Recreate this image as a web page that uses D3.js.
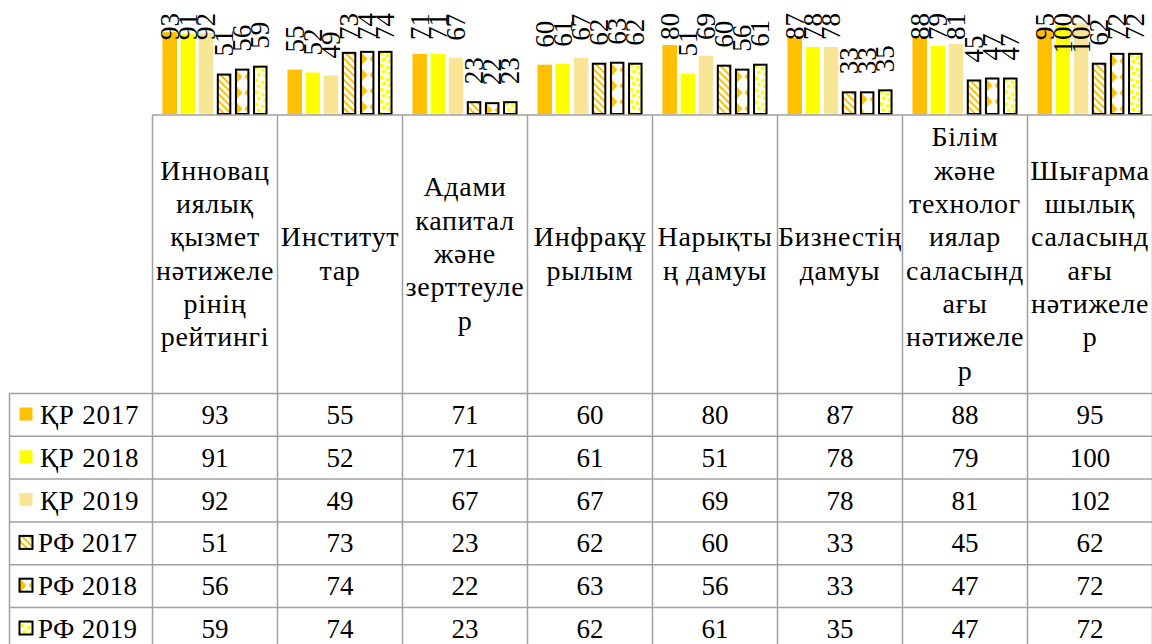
<!DOCTYPE html>
<html>
<head>
<meta charset="utf-8">
<script src="https://cdn.jsdelivr.net/npm/d3@7"></script>
<style>
  body { margin: 0; background: #fff; }
  svg { display: block; }
  text { font-family: "Liberation Serif", "DejaVu Serif", serif; fill: #000; }
</style>
</head>
<body>
<div id="chart"></div>
<script>
// categories (wrapped the way the table header wraps them)
let categoryLines = [
    ['Инновац', 'иялық', 'қызмет', 'нәтижеле', 'рінің', 'рейтингі'],
    ['Институт', 'тар'],
    ['Адами', 'капитал', 'және', 'зерттеуле', 'р'],
    ['Инфрақұ', 'рылым'],
    ['Нарықты', 'ң дамуы'],
    ['Бизнестің', 'дамуы'],
    ['Білім', 'және', 'технолог', 'иялар', 'саласынд', 'ағы', 'нәтижеле', 'р'],
    ['Шығарма', 'шылық', 'саласынд', 'ағы', 'нәтижеле', 'р']
];
let categories = categoryLines.map(l => l.join(''));

let seriesNames = ['ҚР 2017', 'ҚР 2018', 'ҚР 2019', 'РФ 2017', 'РФ 2018', 'РФ 2019'];

let kr2017 = [93, 55, 71, 60, 80, 87, 88, 95];
let kr2018 = [91, 52, 71, 61, 51, 78, 79, 100];
let kr2019 = [92, 49, 67, 67, 69, 78, 81, 102];
let rf2017 = [51, 73, 23, 62, 60, 33, 45, 62];
let rf2018 = [56, 74, 22, 63, 56, 33, 47, 72];
let rf2019 = [59, 74, 23, 62, 61, 35, 47, 72];
let seriesValues = [kr2017, kr2018, kr2019, rf2017, rf2018, rf2019];

let width = 1152,
    height = 644,
    fontSize = 27,
    gridColor = '#a0a0a0',
    orange = '#FFC000',
    yellow = '#FFFF00',
    lightYellow = '#F9E596';

let svg = d3.select('#chart').append('svg')
    .attr('width', width)
    .attr('height', height);

let defs = svg.append('defs');

// scales
let x0 = d3.scaleBand()
    .domain(categories)
    .range([152.5, 1152.5]);

let x1 = d3.scaleBand()
    .domain(seriesNames)
    .range([0, x0.bandwidth()])
    .paddingInner(0.2)
    .paddingOuter(0.55);

let y = d3.scaleLinear()
    .domain([10, 120])
    .range([114, 5.5]);

// fill patterns, one per bar so each one starts at its bar's left edge
function makePattern(id, kind, px, py) {
    if (kind === 3) {
        let p = defs.append('pattern').attr('id', id)
            .attr('patternUnits', 'userSpaceOnUse')
            .attr('width', 5).attr('height', 5)
            .attr('patternTransform', `translate(${px},${py}) rotate(-45)`);
        p.append('rect').attr('width', 5).attr('height', 5).attr('fill', '#fff');
        p.append('rect').attr('width', 2).attr('height', 5).attr('fill', orange);
    } else if (kind === 4) {
        let p = defs.append('pattern').attr('id', id)
            .attr('patternUnits', 'userSpaceOnUse')
            .attr('x', px).attr('y', py)
            .attr('width', 15).attr('height', 16);
        p.append('rect').attr('width', 15).attr('height', 16).attr('fill', '#fff');
        p.append('path').attr('d', 'M0,1 L6.5,8 L0,15 Z M15,1 L8.5,8 L15,15 Z').attr('fill', orange);
    } else {
        let p = defs.append('pattern').attr('id', id)
            .attr('patternUnits', 'userSpaceOnUse')
            .attr('x', px).attr('y', py)
            .attr('width', 12).attr('height', 12);
        p.append('rect').attr('width', 12).attr('height', 12).attr('fill', '#fff');
        [[1, 1], [7, 3], [3, 7], [9, 9]].forEach(([a, b]) => {
            p.append('rect').attr('x', a).attr('y', b).attr('width', 3.5).attr('height', 3.5).attr('fill', yellow);
        });
    }
}

function fillFor(si, id, px, py) {
    if (si === 0) return orange;
    if (si === 1) return yellow;
    if (si === 2) return lightYellow;
    makePattern(id, si, px, py);
    return `url(#${id})`;
}

// bars
let barData = [];
categories.forEach((c, ci) => {
    seriesNames.forEach((s, si) => {
        barData.push({cat: c, ci: ci, series: s, si: si, value: seriesValues[si][ci]});
    });
});

let bar_g = svg.append('g').attr('class', 'bars');

bar_g.selectAll('.bar')
    .data(barData)
    .join('rect')
    .attr('class', 'bar')
    .attr('x', d => x0(d.cat) + x1(d.series) + (d.si > 2 ? 1 : 0))
    .attr('y', d => y(d.value) + (d.si > 2 ? 1 : 0))
    .attr('width', d => x1.bandwidth() - (d.si > 2 ? 2 : 0))
    .attr('height', d => y(10) - y(d.value) - (d.si > 2 ? 1 : 0))
    .attr('fill', d => fillFor(d.si, `pat${d.si}_${d.ci}`, x0(d.cat) + x1(d.series) + 1, y(d.value)))
    .attr('stroke', d => d.si > 2 ? '#000' : 'none')
    .attr('stroke-width', 2);

// rotated data labels; labels that would run off the top are held down
bar_g.selectAll('.label')
    .data(barData)
    .join('text')
    .attr('class', 'label')
    .attr('font-size', fontSize)
    .attr('dominant-baseline', 'central')
    .attr('transform', function (d) {
        let cx = x0(d.cat) + x1(d.series) + x1.bandwidth() / 2;
        let len = String(d.value).length * fontSize * 0.5;
        let bottom = Math.max(y(d.value) - 17, 13 + len);
        return `translate(${cx},${bottom}) rotate(-90)`;
    })
    .text(d => d.value);

// data table
let headerTop = 115,
    headerBottom = 393.5,
    rowH = 42.8,
    legendLeft = 9.5;

let table_g = svg.append('g').attr('class', 'table');

let rowTops = seriesNames.map((s, i) => headerBottom + i * rowH);

// header cells
let head = table_g.selectAll('.head')
    .data(categoryLines)
    .join('text')
    .attr('class', 'head')
    .attr('font-size', 28)
    .attr('letter-spacing', 0.7)
    .attr('text-anchor', 'middle');

head.each(function (lines, ci) {
    let cx = x0(categories[ci]) + x0.bandwidth() / 2;
    d3.select(this).selectAll('tspan')
        .data(lines)
        .join('tspan')
        .attr('x', cx)
        .attr('y', (l, i) => 263 + (i - (lines.length - 1) / 2) * 33.3)
        .text(l => l);
});

// value cells
let cellData = [];
seriesNames.forEach((s, si) => {
    categories.forEach((c, ci) => {
        cellData.push({si: si, cat: c, value: seriesValues[si][ci]});
    });
});

table_g.selectAll('.cell')
    .data(cellData)
    .join('text')
    .attr('class', 'cell')
    .attr('font-size', fontSize)
    .attr('text-anchor', 'middle')
    .attr('x', d => x0(d.cat) + x0.bandwidth() / 2)
    .attr('y', d => rowTops[d.si] + 30.5)
    .text(d => d.value);

// legend column
let leg = table_g.selectAll('.legend')
    .data(seriesNames)
    .join('g')
    .attr('class', 'legend')
    .attr('transform', (d, i) => `translate(0,${rowTops[i]})`);

leg.append('rect')
    .attr('x', 19.5)
    .attr('y', 14)
    .attr('width', 13)
    .attr('height', 13)
    .attr('fill', (d, i) => fillFor(i, `legpat${i}`, 20, rowTops[i] + 8))
    .attr('stroke', (d, i) => i > 2 ? '#000' : 'none')
    .attr('stroke-width', 2);

leg.append('text')
    .attr('font-size', fontSize)
    .attr('letter-spacing', (d, i) => i > 2 ? 0.4 : 0.8)
    .attr('x', (d, i) => i > 2 ? 38 : 40)
    .attr('y', 30.5)
    .text(d => d);

// grid lines
let grid_g = table_g.append('g')
    .attr('stroke', gridColor)
    .attr('stroke-width', 1.5);

grid_g.append('line')
    .attr('x1', x0.range()[0]).attr('x2', width)
    .attr('y1', headerTop).attr('y2', headerTop);

grid_g.selectAll('.hline')
    .data(rowTops.concat([headerBottom + seriesNames.length * rowH]))
    .join('line')
    .attr('class', 'hline')
    .attr('x1', legendLeft).attr('x2', width)
    .attr('y1', d => d).attr('y2', d => d);

grid_g.selectAll('.vline')
    .data(categories.concat(['end']))
    .join('line')
    .attr('class', 'vline')
    .attr('x1', (d, i) => x0.range()[0] + i * x0.step())
    .attr('x2', (d, i) => x0.range()[0] + i * x0.step())
    .attr('y1', headerTop).attr('y2', height);

grid_g.append('line')
    .attr('x1', legendLeft).attr('x2', legendLeft)
    .attr('y1', headerBottom).attr('y2', height);
</script>
</body>
</html>
